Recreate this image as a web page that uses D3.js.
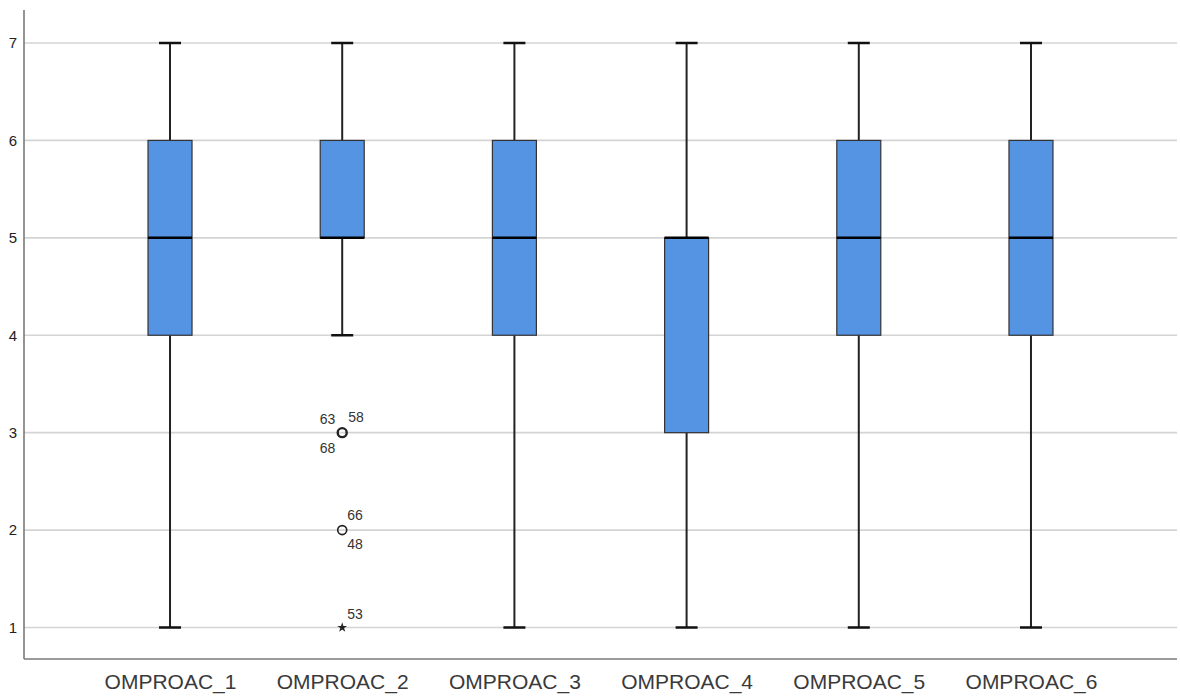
<!DOCTYPE html>
<html><head><meta charset="utf-8">
<script src="https://cdn.jsdelivr.net/npm/d3@7"></script>
<style>body{margin:0;background:#fff}svg{display:block;font-family:"Liberation Sans",Arial,sans-serif}</style>
</head><body><svg id="c" width="1180" height="700"></svg>
<script>
const categories = ["OMPROAC_1","OMPROAC_2","OMPROAC_3","OMPROAC_4","OMPROAC_5","OMPROAC_6"];
const whiskerLow = [1,4,1,1,1,1];
const q1 = [4,5,4,3,4,4];
const medians = [5,5,5,5,5,5];
const q3 = [6,6,6,5,6,6];
const whiskerHigh = [7,7,7,7,7,7];
const yTicks = [1,2,3,4,5,6,7];
// outliers: category, value, case ids, type
const outlierCats = ["OMPROAC_2","OMPROAC_2","OMPROAC_2"];
const outlierVals = [3,2,1];
const outlierIds = [["63","58","68"],["66","48"],["53"]];
const outlierKind = ["circle","circle","star"];

const svg = d3.select("#c");
const L=24, R=1177, T=10, B=659;
const x = d3.scalePoint().domain(categories).range([L,R]).padding(0.848);
const y = d3.scaleLinear().domain([1,7]).range([627.5,43]);

// gridlines
svg.append("g").selectAll("line").data(yTicks).join("line")
  .attr("x1",L).attr("x2",R).attr("y1",d=>y(d)).attr("y2",d=>y(d))
  .attr("stroke","#d4d4d4").attr("stroke-width",1.6);

// axes
const ya = d3.axisLeft(y).tickValues(yTicks).tickSize(0).tickPadding(7).tickFormat(d3.format("d"));
const gy = svg.append("g").attr("transform",`translate(${L},0)`).call(ya);
gy.select(".domain").remove();
gy.selectAll("text").attr("font-size",15).attr("fill","#222").attr("font-family","Liberation Sans, Arial, sans-serif");
svg.append("line").attr("x1",L).attr("x2",R).attr("y1",B).attr("y2",B).attr("stroke","#7a7a7a").attr("stroke-width",1.6);
svg.append("line").attr("x1",L).attr("x2",L).attr("y1",T).attr("y2",B).attr("stroke","#7a7a7a").attr("stroke-width",1.6);

const xa = d3.axisBottom(x).tickSize(0).tickPadding(17);
const gx = svg.append("g").attr("transform",`translate(0,${B})`).call(xa);
gx.select(".domain").remove();
gx.selectAll("text").attr("font-size",21).attr("fill","#3a3a3a").attr("dy","0.62em").attr("font-family","Liberation Sans, Arial, sans-serif");

const boxW = 44, capW = 22;
const data = categories.map((c,i)=>({c,lo:whiskerLow[i],q1:q1[i],med:medians[i],q3:q3[i],hi:whiskerHigh[i]}));
const g = svg.append("g").selectAll("g").data(data).join("g");
// whiskers
g.append("line").attr("x1",d=>x(d.c)).attr("x2",d=>x(d.c)).attr("y1",d=>y(d.hi)).attr("y2",d=>y(d.q3)).attr("stroke","#222").attr("stroke-width",2);
g.append("line").attr("x1",d=>x(d.c)).attr("x2",d=>x(d.c)).attr("y1",d=>y(d.q1)).attr("y2",d=>y(d.lo)).attr("stroke","#222").attr("stroke-width",2);
g.append("line").attr("x1",d=>x(d.c)-capW/2).attr("x2",d=>x(d.c)+capW/2).attr("y1",d=>y(d.hi)).attr("y2",d=>y(d.hi)).attr("stroke","#111").attr("stroke-width",2.5);
g.append("line").attr("x1",d=>x(d.c)-capW/2).attr("x2",d=>x(d.c)+capW/2).attr("y1",d=>y(d.lo)).attr("y2",d=>y(d.lo)).attr("stroke","#111").attr("stroke-width",2.5);
// boxes
g.append("rect").attr("x",d=>x(d.c)-boxW/2).attr("width",boxW).attr("y",d=>y(d.q3)).attr("height",d=>y(d.q1)-y(d.q3))
  .attr("fill","#5593e3").attr("stroke","#333").attr("stroke-width",1.2);
g.append("line").attr("x1",d=>x(d.c)-boxW/2).attr("x2",d=>x(d.c)+boxW/2).attr("y1",d=>y(d.med)).attr("y2",d=>y(d.med)).attr("stroke","#000").attr("stroke-width",2.5);

// outliers
const labelPlacement = {
  3: [[-7,"end",-9],[6,"start",-11],[-7,"end",20]],
  2: [[5,"start",-10],[5,"start",19]],
  1: [[5,"start",-9]]
};
const og = svg.append("g");
outlierVals.forEach((v,i)=>{
  const cx = x(outlierCats[i]), cy = y(v);
  if(outlierKind[i]==="circle"){
    og.append("circle").attr("cx",cx).attr("cy",cy).attr("r",4.5).attr("fill","none")
      .attr("stroke","#222").attr("stroke-width",outlierIds[i].length>2?2.4:1.6);
  } else {
    og.append("path").attr("transform",`translate(${cx},${cy})`)
      .attr("d",d3.symbol(d3.symbolStar,30)()).attr("fill","#222");
  }
  const pl = labelPlacement[outlierIds[i].length];
  outlierIds[i].forEach((id,j)=>{
    og.append("text").attr("x",cx+pl[j][0]).attr("y",cy+pl[j][2]).attr("text-anchor",pl[j][1])
      .attr("font-size",14).attr("fill","#333").text(id);
  });
});
</script></body></html>
